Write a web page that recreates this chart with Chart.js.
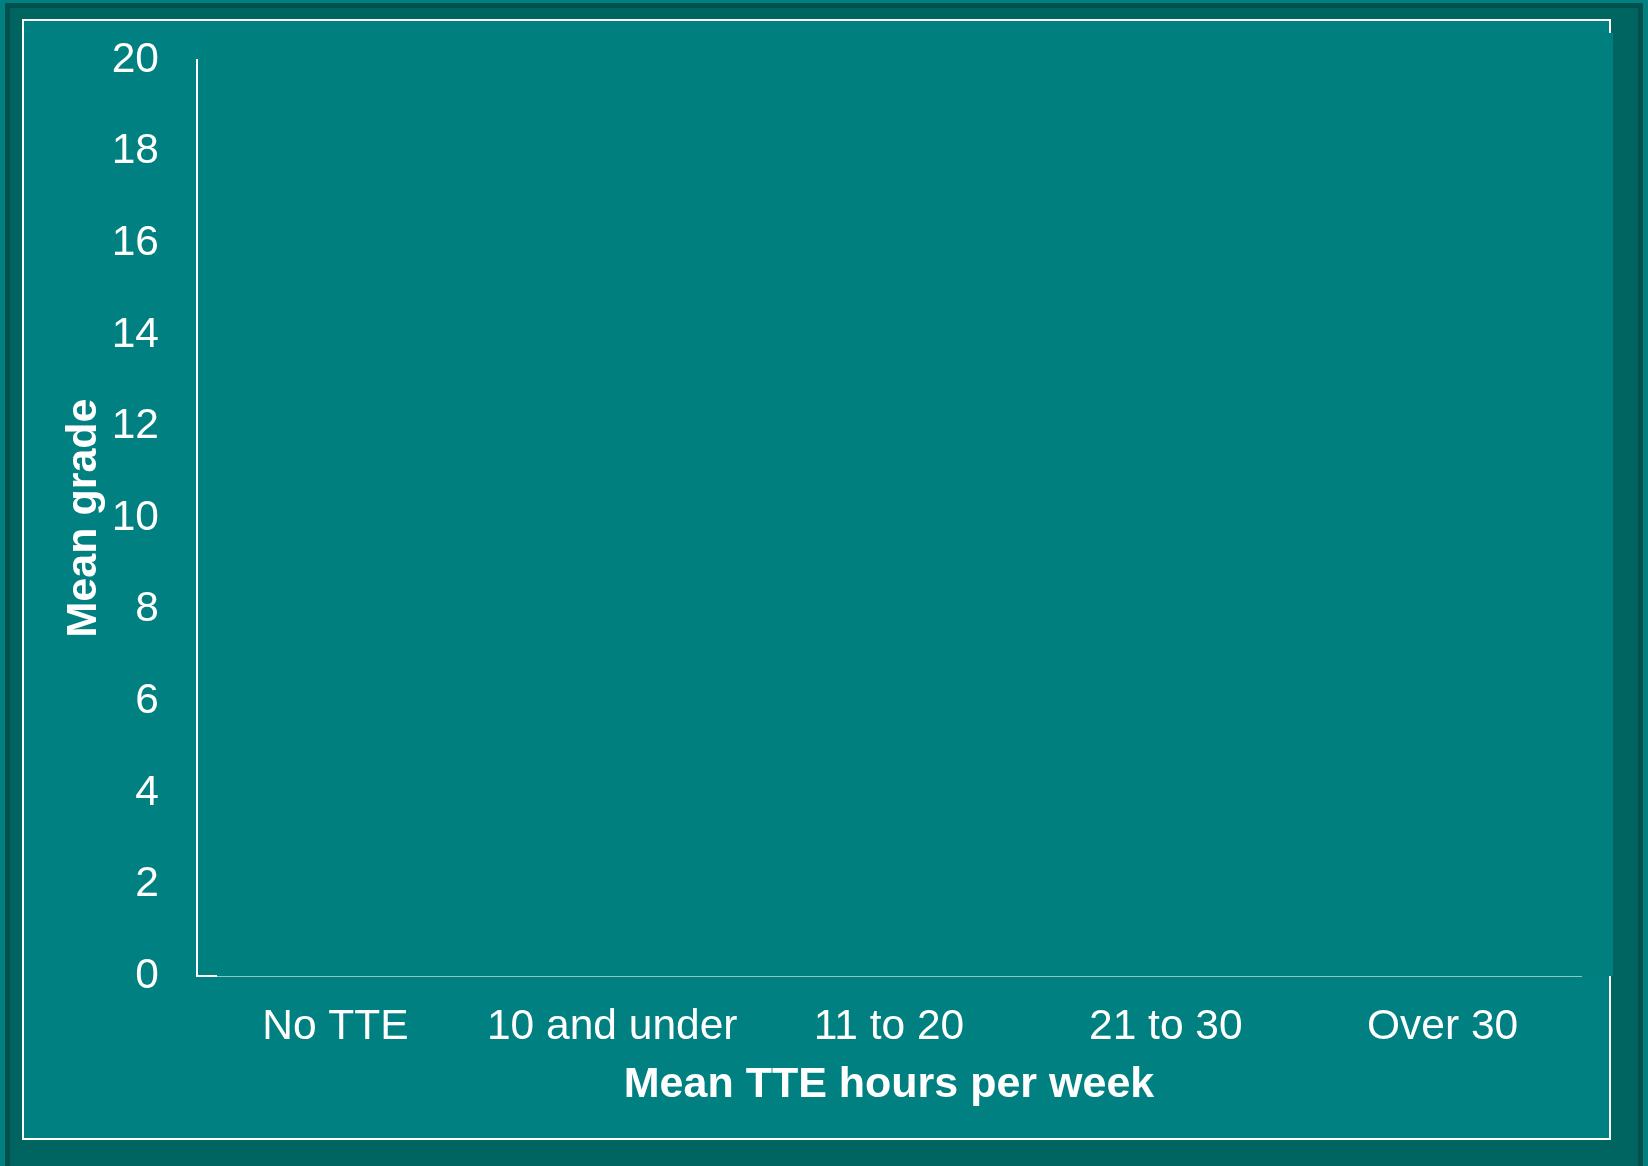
<!DOCTYPE html>
<html>
<head>
<meta charset="utf-8">
<script src="https://cdn.jsdelivr.net/npm/chart.js@4"></script>
<style>
  html, body { margin: 0; padding: 0; background: #008080; width: 1648px; height: 1166px; overflow: hidden; }
  #outer { position: absolute; left: 5px; top: 3px; width: 1628px; height: 1163px; background: #006461; border: 5px solid #00514e; border-bottom: none; }
  #frame { position: absolute; left: 22px; top: 19px; width: 1585px; height: 1117px; border: 2px solid #ffffff; background: #008080; }
  #wrap { position: absolute; left: 0; top: 0; width: 1648px; height: 1166px; }
</style>
</head>
<body>
<div id="outer"></div>
<div id="frame"></div>
<div id="wrap"><canvas id="gradeChart" width="1648" height="1166"></canvas></div>
<script>
// categories and values (no bars are visible in the picture)
const categories = ['No TTE', '10 and under', '11 to 20', '21 to 30', 'Over 30'];
const meanGrade = [null, null, null, null, null];
const yMin = 0;
const yMax = 20;
const yStep = 2;

const plotBack = {
  id: 'plotBack',
  beforeDraw(chart) {
    const c = chart.ctx;
    const a = chart.chartArea;
    c.save();
    c.fillStyle = '#007f7f';
    c.fillRect(a.left + 2, 33, 1613 - a.left - 2, a.bottom - 33);
    c.restore();
  },
  afterDraw(chart) {
    const c = chart.ctx;
    const a = chart.chartArea;
    const y0 = chart.scales.y.getPixelForValue(0);
    c.save();
    c.strokeStyle = '#ffffff';
    c.lineWidth = 2;
    c.beginPath();
    c.moveTo(a.left, y0);
    c.lineTo(a.left + 20, y0);
    c.stroke();
    c.restore();
  }
};

const ctx = document.getElementById('gradeChart').getContext('2d');
new Chart(ctx, {
  type: 'bar',
  data: {
    labels: categories,
    datasets: [{
      label: 'Mean grade',
      data: meanGrade,
      backgroundColor: '#ffffff'
    }]
  },
  options: {
    responsive: false,
    animation: false,
    devicePixelRatio: 1,
    layout: { padding: { left: 0, right: 67, top: 60, bottom: 0 } },
    plugins: {
      legend: { display: false },
      tooltip: { enabled: false }
    },
    scales: {
      x: {
        grid: { display: false, drawTicks: false },
        border: { display: true, color: 'rgba(255,255,255,0.55)', width: 1 },
        ticks: {
          color: '#ffffff',
          font: { family: 'Liberation Sans', size: 42.5 },
          padding: 26,
          maxRotation: 0,
          autoSkip: false
        },
        title: {
          display: true,
          text: 'Mean TTE hours per week',
          color: '#ffffff',
          font: { family: 'Liberation Sans', size: 43, weight: 'bold' },
          padding: { top: 0, bottom: 55 }
        },
        afterFit(scale) {
          scale.height = 190;
          scale.paddingLeft = 0;
          scale.paddingRight = 0;
        }
      },
      y: {
        min: yMin,
        max: yMax,
        grid: { display: false, drawTicks: false },
        border: { display: true, color: '#ffffff', width: 2 },
        ticks: {
          stepSize: yStep,
          color: '#ffffff',
          font: { family: 'Liberation Sans', size: 42.5 },
          padding: 38
        },
        title: {
          display: true,
          text: 'Mean grade',
          color: '#ffffff',
          font: { family: 'Liberation Sans', size: 43, weight: 'bold' },
          padding: { top: 58, bottom: 0 }
        },
        afterFit(scale) {
          scale.width = 197;
          scale.paddingTop = 0;
          scale.paddingBottom = 0;
        }
      }
    }
  },
  plugins: [plotBack]
});
</script>
</body>
</html>
